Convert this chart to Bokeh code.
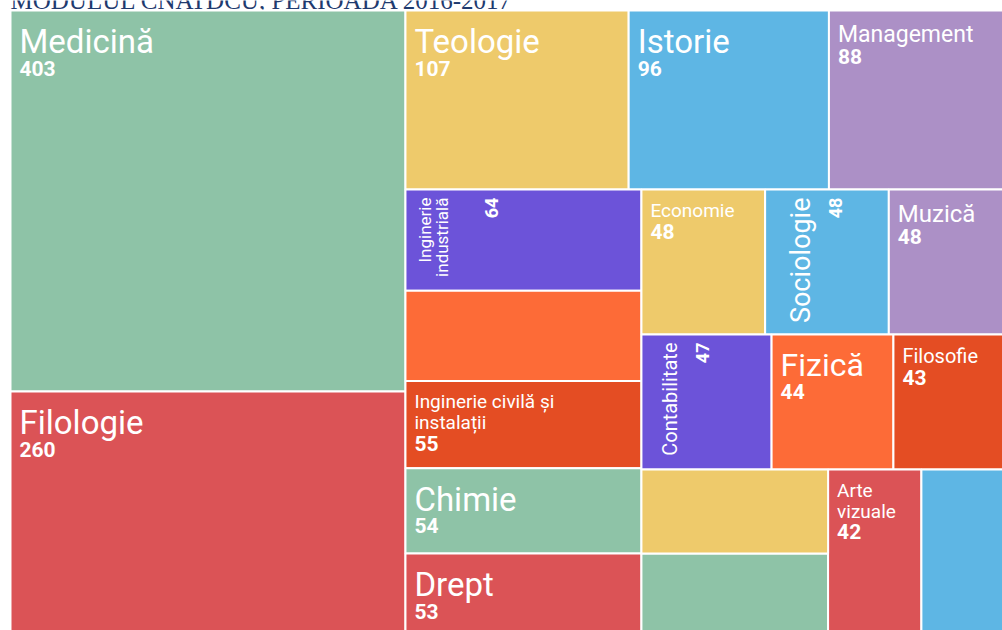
import math
from bokeh.plotting import figure
from bokeh.models import Range1d
from bokeh.embed import file_html
from bokeh.resources import INLINE
from bokeh.core.properties import value

# ---------------- data ----------------
title_text = "MODULUL CNATDCU, PERIOADA 2016-2017"
categories = ["Medicină", "Filologie", "Teologie", "Istorie", "Management",
              "Inginerie\nindustrială", "", "Inginerie civilă și\ninstalații", "Chimie", "Drept",
              "Economie", "Sociologie", "Muzică", "Contabilitate", "Fizică", "Filosofie",
              "", "Arte\nvizuale", "", ""]
values = [403, 260, 107, 96, 88, 64, 57, 55, 54, 53, 48, 48, 48, 47, 44, 43, 42, 42, 42, 41]

# treemap strips (structure of the layout: which items share a strip)
strips = [("col", [0, 1]), ("row", [2, 3, 4]), ("col", [5, 6, 7, 8, 9]),
          ("row", [10, 11, 12]), ("row", [13, 14, 15]),
          ("col", [18, 16]), ("col", [17]), ("col", [19])]

# ---------------- styles ----------------
palette = ["#8ec3a7", "#db5356", "#eeca6b", "#5eb6e4", "#ac90c6", "#6c53d9", "#fd6b37", "#e44d23"]
name_size = {0: 33, 1: 33, 2: 33, 3: 33, 4: 23, 5: 17, 7: 19, 8: 33, 9: 33, 10: 19,
             11: 27, 12: 24, 13: 20, 14: 32, 15: 20, 17: 19}
rotated = {5, 11, 13}
rot_value_gap = {5: 44}
rot_name_shift = {5: -6}
FONT = value("Roboto")
BASE_FIX = 0.27   # baseline correction (em) for the renderer
VS = 21           # value font size

# treemap box (page pixel units)
X0, Y0, TW, TH = 10.0, 10.0, 1002.0, 627.0
PW, PH = 1002, 630

# ---------------- layout ----------------
rects = {}
x0, y0, x1, y1 = X0, Y0, X0 + TW, Y0 + TH
rem = float(sum(values))
for orient, idx in strips:
    s = float(sum(values[i] for i in idx))
    if orient == "col":
        w = (x1 - x0) * s / rem
        cy = y0
        for i in idx:
            h = (y1 - y0) * values[i] / s
            rects[i] = (x0, cy, x0 + w, cy + h)
            cy += h
        x0 += w
    else:
        h = (y1 - y0) * s / rem
        cx = x0
        for i in idx:
            w = (x1 - x0) * values[i] / s
            rects[i] = (cx, y0, cx + w, y0 + h)
            cx += w
        y0 += h
    rem -= s

order = sorted(rects.keys())
left = [rects[i][0] for i in order]
top = [rects[i][1] for i in order]
right = [rects[i][2] for i in order]
bottom = [rects[i][3] for i in order]
colors = [palette[i % len(palette)] for i in order]

p = figure(width=PW, height=PH, x_range=Range1d(0, PW), y_range=Range1d(PH, 0),
           output_backend="svg", toolbar_location=None, min_border=0,
           x_axis_location=None, y_axis_location=None)
p.grid.visible = False
p.outline_line_color = None
p.background_fill_color = "white"
p.border_fill_color = "white"

p.text(x=[X0], y=[0.3], text=[title_text], text_font=value("Liberation Serif"),
       text_font_size="25px", text_color="#1f3b6f", text_align="left",
       text_baseline="alphabetic")

p.quad(left=left, right=right, top=top, bottom=bottom, fill_color=colors,
       line_color="white", line_width=2)

for i in order:
    name = categories[i]
    if not name:
        continue
    rx0, ry0, rx1, ry1 = rects[i]
    ns = name_size[i]
    lines = name.split("\n")
    if i in rotated:
        bx = rx0 + 8 + 1.3 * ns + rot_name_shift.get(i, 0)
        for k, ln in enumerate(lines):
            p.text(x=[bx + k * ns - BASE_FIX * ns], y=[ry0 + 8], text=[ln], angle=math.pi / 2,
                   text_font=FONT, text_font_size=f"{ns}px", text_color="white",
                   text_align="right", text_baseline="alphabetic")
        vx = bx + (len(lines) - 1) * ns + rot_value_gap.get(i, 32) - rot_name_shift.get(i, 0)
        p.text(x=[vx - BASE_FIX * 18], y=[ry0 + 8], text=[str(values[i])], angle=math.pi / 2,
               text_font=FONT, text_font_size="18px", text_font_style="bold",
               text_color="white", text_align="right", text_baseline="alphabetic")
    else:
        tx = rx0 + 9
        by = ry0 + 7 + ns
        pitch = 1.1 * ns
        for k, ln in enumerate(lines):
            p.text(x=[tx], y=[by + k * pitch - BASE_FIX * ns], text=[ln], text_font=FONT,
                   text_font_size=f"{ns}px", text_color="white",
                   text_align="left", text_baseline="alphabetic")
        vy = by + (len(lines) - 1) * pitch + 18.5 + 0.15 * ns
        p.text(x=[tx], y=[vy - BASE_FIX * VS], text=[str(values[i])], text_font=FONT,
               text_font_size=f"{VS}px", text_font_style="bold", text_color="white",
               text_align="left", text_baseline="alphabetic")

open("out.html", "w").write(file_html(p, INLINE))
